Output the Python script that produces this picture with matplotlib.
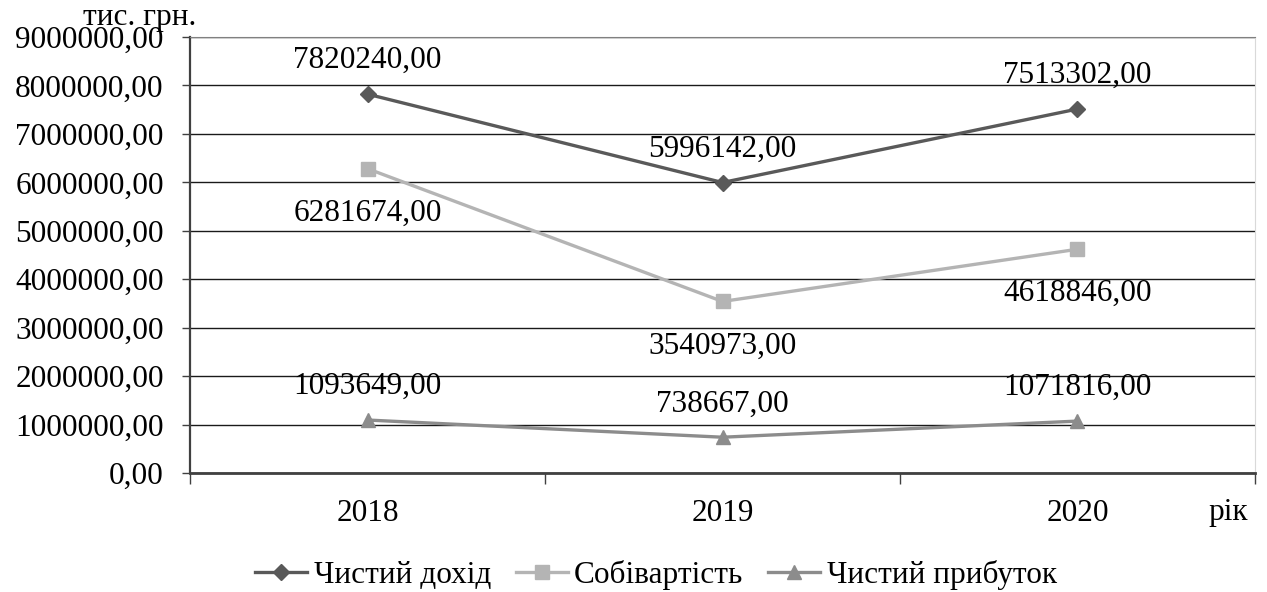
import numpy as np
import matplotlib.pyplot as plt
from matplotlib.ticker import FuncFormatter, FixedLocator

plt.rcParams['font.family'] = ['Liberation Serif', 'DejaVu Serif']
plt.rcParams['font.size'] = 22.5

years = ['2018', '2019', '2020']
revenue = [7820240.00, 5996142.00, 7513302.00]     # Чистий дохід
cost = [6281674.00, 3540973.00, 4618846.00]        # Собівартість
profit = [1093649.00, 738667.00, 1071816.00]       # Чистий прибуток

fig = plt.figure(figsize=(12.67, 5.92), dpi=100)
ax = fig.add_axes([0.15, 0.2010, 0.8405, 0.7365])

x = np.arange(len(years))

series = [
    (revenue, 'Чистий дохід', '#595959', 'D', 8, 24),
    (cost, 'Собівартість', '#b4b4b4', 's', 10, -32),
    (profit, 'Чистий прибуток', '#8c8c8c', '^', 10, 24),
]
for vals, name, col, mk, ms, dy in series:
    ax.plot(x, vals, color=col, lw=2.4, marker=mk, ms=ms, label=name, zorder=3)
    for xi, v in zip(x, vals):
        ax.annotate(f'{v:.2f}'.replace('.', ','), (xi, v), xytext=(0, dy),
                    textcoords='offset points', ha='center', va='center')

# осі
ax.set_xlim(-0.5, 2.5)
ax.set_ylim(0, 9000000)
ax.set_yticks(np.arange(0, 9000001, 1000000))
ax.yaxis.set_major_formatter(FuncFormatter(lambda v, p: f'{v:.2f}'.replace('.', ',')))
ax.set_xticks(x)
ax.set_xticklabels(years)
ax.xaxis.set_minor_locator(FixedLocator([-0.5, 0.5, 1.5, 2.5]))
ax.tick_params(axis='x', which='major', length=0, pad=19)
ax.tick_params(axis='x', which='minor', length=8, color='#404040', width=1)
ax.tick_params(axis='y', length=6, color='#404040', width=1, pad=13)

ax.grid(axis='y', color='#1a1a1a', lw=1)
ax.set_axisbelow(True)
ax.spines['left'].set_color('#404040')
ax.spines['left'].set_linewidth(1.6)
ax.spines['bottom'].set_color('#404040')
ax.spines['bottom'].set_linewidth(2)
ax.spines['top'].set_color('#808080')
ax.spines['right'].set_color('#d9d9d9')

fig.text(140 / 1267, 1 - 25 / 592, 'тис. грн.', ha='center', va='baseline')
fig.text(1228 / 1267, 1 - 520 / 592, 'рік', ha='center', va='baseline')

fig.legend(loc='center', bbox_to_anchor=(656 / 1267, 1 - 575 / 592), ncol=3,
           frameon=False, handlelength=1.66, handletextpad=0.2,
           columnspacing=0.8, borderpad=0)

fig.savefig('out.png', dpi=100)
